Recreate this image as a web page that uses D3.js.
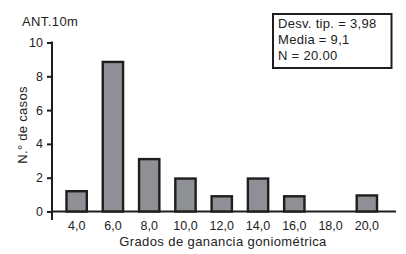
<!DOCTYPE html>
<html lang="en">
<head>
    <meta charset="UTF-8">
    <title>ANT.10m</title>
    <script src="https://d3js.org/d3.v7.min.js"></script>
    <style>
        body { margin: 0; background: #fff; }
        text { font-family: "Liberation Sans", Arial, sans-serif; fill: #222; }
    </style>
</head>
<body>
    <svg width="406" height="254"></svg>
    <script type="text/javascript">
        // data
        var categories = ["4,0", "6,0", "8,0", "10,0", "12,0", "14,0", "16,0", "18,0", "20,0"];
        var counts = [1.2, 8.85, 3.1, 1.95, 0.9, 1.95, 0.9, 0, 0.95];
        var yTicks = [0, 2, 4, 6, 8, 10];
        var statsLines = ["Desv. tip. = 3,98", "Media = 9,1", "N = 20.00"];

        var data = categories.map(function(c, i) { return {cat: c, v: counts[i]}; });

        var margin = {top: 42.5, right: 10, bottom: 42.5, left: 52},
            width = 396 - margin.left,
            height = 211.5 - margin.top;

        var x = d3.scaleBand()
                  .domain(categories)
                  .range([6.5, 333])
                  .paddingInner(0.44)
                  .paddingOuter(0.22);

        var y = d3.scaleLinear()
                  .domain([0, 10])
                  .range([height, 0]);

        var svg = d3.select("svg")
                    .append("g")
                    .attr("transform", "translate(" + margin.left + "," + margin.top + ")");

        // x baseline
        svg.append("line")
           .attr("x1", 0).attr("x2", width)
           .attr("y1", height).attr("y2", height)
           .attr("stroke", "#1e1e1e")
           .attr("stroke-width", 2);

        // bars
        svg.selectAll(".bar")
           .data(data)
           .enter().append("rect")
           .attr("class", "bar")
           .attr("x", function(d) { return x(d.cat); })
           .attr("width", x.bandwidth())
           .attr("y", function(d) { return d.v > 0 ? y(d.v) : height + 1; })
           .attr("height", function(d) { return height - y(d.v); })
           .attr("fill", function(d) { return d.v > 0 ? "#8f8f96" : "#fff"; })
           .attr("stroke", "#1e1e1e")
           .attr("stroke-width", function(d) { return d.v > 0 ? 2.4 : 1; });

        // x tick labels
        svg.append("g")
           .attr("transform", "translate(0," + height + ")")
           .call(d3.axisBottom(x).tickSize(0).tickPadding(10))
           .call(function(g) { g.select(".domain").remove(); })
           .selectAll("text")
           .attr("font-size", "12.5px")
           .attr("fill", "#222")
           .style("font-family", "Liberation Sans, Arial, sans-serif");

        // y axis
        var yAxis = svg.append("g")
           .call(d3.axisLeft(y).tickValues(yTicks).tickSize(5).tickPadding(4).tickFormat(d3.format("d")));
        yAxis.select(".domain").remove();
        yAxis.selectAll("line").attr("stroke", "#1e1e1e").attr("stroke-width", 2);
        yAxis.selectAll("text")
             .attr("font-size", "12.5px")
             .attr("fill", "#222")
             .style("font-family", "Liberation Sans, Arial, sans-serif");
        svg.append("line")
           .attr("x1", 0).attr("x2", 0)
           .attr("y1", y(10) - 1).attr("y2", height + 8.5)
           .attr("stroke", "#1e1e1e")
           .attr("stroke-width", 2);

        // titles
        d3.select("svg").append("text")
           .attr("x", 22).attr("y", 25.5)
           .attr("font-size", "13px")
           .attr("letter-spacing", "0.4px")
           .text("ANT.10m");

        d3.select("svg").append("text")
           .attr("transform", "translate(27,125) rotate(-90)")
           .attr("text-anchor", "middle")
           .attr("font-size", "13px")
           .attr("letter-spacing", "0.3px")
           .text("N.° de casos");

        d3.select("svg").append("text")
           .attr("x", 223).attr("y", 245.5)
           .attr("text-anchor", "middle")
           .attr("font-size", "13px")
           .attr("letter-spacing", "0.4px")
           .text("Grados de ganancia goniométrica");

        // stats box
        var box = d3.select("svg").append("g").attr("transform", "translate(273,14)");
        box.append("rect")
           .attr("width", 118.5).attr("height", 54)
           .attr("fill", "#fff")
           .attr("stroke", "#1e1e1e")
           .attr("stroke-width", 2);
        box.selectAll(".stat")
           .data(statsLines)
           .enter().append("text")
           .attr("class", "stat")
           .attr("x", 5)
           .attr("y", function(d, i) { return 14 + i * 16; })
           .attr("font-size", "13px")
           .attr("letter-spacing", "0.3px")
           .text(function(d) { return d; });
    </script>
</body>
</html>
